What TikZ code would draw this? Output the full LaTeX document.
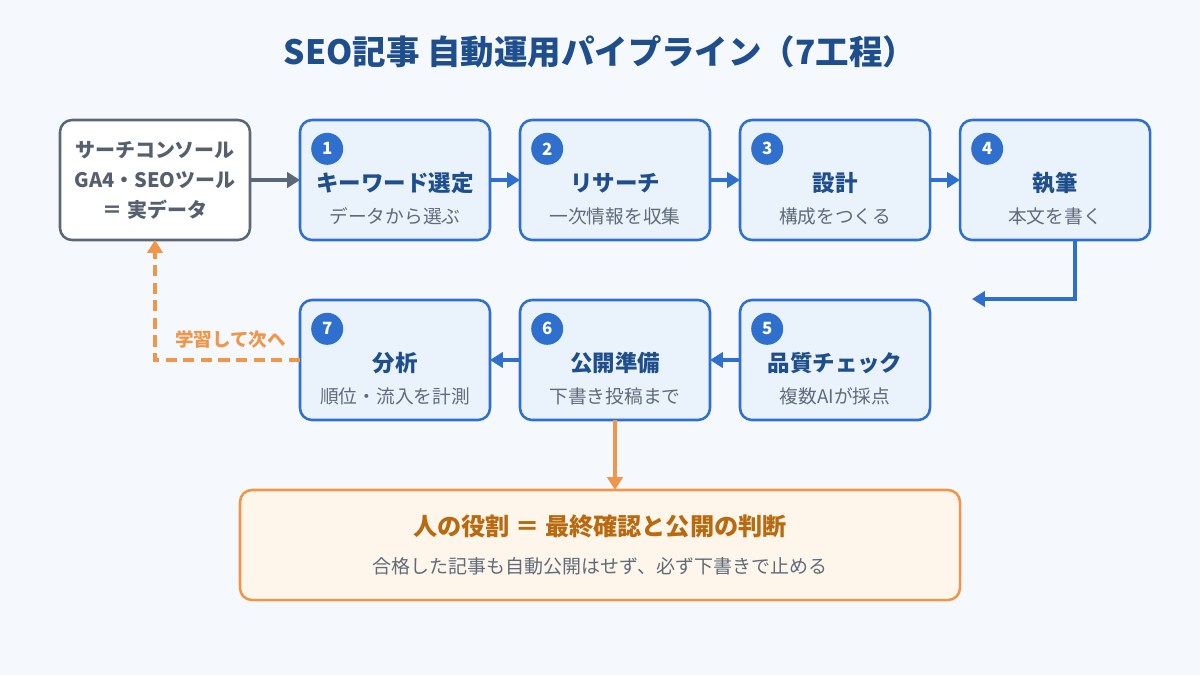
\documentclass[tikz,border=0pt]{standalone}
\usepackage{fontspec}
\setmainfont{Noto Sans CJK JP}
\usepackage{xcolor}
\usetikzlibrary{arrows.meta,positioning}

\definecolor{bgcol}{HTML}{F5F9FD}
\definecolor{stepblue}{HTML}{2F6FCD}
\definecolor{stepfill}{HTML}{EAF2FC}
\definecolor{titleblue}{HTML}{1F4E8C}
\definecolor{srcgray}{HTML}{5B6777}
\definecolor{srctext}{HTML}{555F6D}
\definecolor{subgray}{HTML}{5F6B7A}
\definecolor{roleorange}{HTML}{F0964A}
\definecolor{rolefill}{HTML}{FFF6EB}
\definecolor{roletext}{HTML}{B86A10}

\newcommand{\subtextfont}{\fontsize{13.3}{15}\selectfont\mdseries}

\begin{document}
\begin{tikzpicture}[
		node distance=0.75cm,
		srcbox/.style={
			rectangle,
			rounded corners=0.3cm,
			draw=srcgray,
			fill=white,
			line width=1.8pt,
			outer sep=0pt,
			minimum width=4.75cm,
			minimum height=3cm,
			align=center,
			text=srctext,
			font=\fontsize{14.2}{21.3}\selectfont\bfseries
		},
		stepbox/.style={
			rectangle,
			rounded corners=0.3cm,
			draw=stepblue,
			fill=stepfill,
			line width=1.8pt,
			outer sep=0pt,
			minimum width=4.75cm,
			minimum height=3cm
		},
		steptext/.style={
			align=center,
			text=titleblue,
			font=\fontsize{16}{22.7}\selectfont\bfseries
		},
		numdot/.style={
			circle,
			fill=stepblue,
			text=white,
			minimum size=0.8cm,
			inner sep=0pt,
			font=\fontsize{12}{14}\selectfont\bfseries
		},
		rolebox/.style={
			rectangle,
			rounded corners=0.3cm,
			draw=roleorange,
			fill=rolefill,
			line width=1.8pt,
			outer sep=0pt,
			minimum width=18cm,
			minimum height=2.75cm,
			align=center
		},
		arrow/.style={
			-{Triangle[length=3.2mm,width=3.8mm]},
			draw=stepblue,
			line width=2.6pt
		},
		looparrow/.style={
			-{Triangle[length=3.2mm,width=3.8mm]},
			draw=roleorange,
			line width=2.6pt,
			dash pattern=on 2.8mm off 1.6mm
		}
		]
		
		% canvas
		\fill[bgcol] (0,0) rectangle (30,-16.875);
		\useasboundingbox (0,0) rectangle (30,-16.875);
		
		\node[font=\fontsize{23.8}{28}\selectfont\bfseries, text=titleblue] (title) at (15,-1.3)
		{SEO記事 自動運用パイプライン（7工程）};
		
		\node[srcbox] (src) at (3.875,-4.5)
		{サーチコンソール\\GA4・SEOツール\\＝ 実データ};
		
		% first row
		\node[stepbox, right=1.25cm of src] (s1) {};
		\node[stepbox, right=of s1] (s2) {};
		\node[stepbox, right=of s2] (s3) {};
		\node[stepbox, right=of s3] (s4) {};
		
		% second row
		\node[stepbox, below=1.5cm of s3] (s5) {};
		\node[stepbox, left=of s5] (s6) {};
		\node[stepbox, left=of s6] (s7) {};
		
		\node[numdot] (n1) at ([xshift=0.68cm,yshift=-0.72cm]s1.north west) {1};
		\node[numdot] (n2) at ([xshift=0.68cm,yshift=-0.72cm]s2.north west) {2};
		\node[numdot] (n3) at ([xshift=0.68cm,yshift=-0.72cm]s3.north west) {3};
		\node[numdot] (n4) at ([xshift=0.68cm,yshift=-0.72cm]s4.north west) {4};
		\node[numdot] (n5) at ([xshift=0.68cm,yshift=-0.72cm]s5.north west) {5};
		\node[numdot] (n6) at ([xshift=0.68cm,yshift=-0.72cm]s6.north west) {6};
		\node[numdot] (n7) at ([xshift=0.68cm,yshift=-0.72cm]s7.north west) {7};
		
		\node[steptext] (t1) at ([yshift=-0.47cm]s1.center)
		{キーワード選定\\{\subtextfont\color{subgray}データから選ぶ}};
		\node[steptext] (t2) at ([yshift=-0.47cm]s2.center)
		{リサーチ\\{\subtextfont\color{subgray}一次情報を収集}};
		\node[steptext] (t3) at ([yshift=-0.47cm]s3.center)
		{設計\\{\subtextfont\color{subgray}構成をつくる}};
		\node[steptext] (t4) at ([yshift=-0.47cm]s4.center)
		{執筆\\{\subtextfont\color{subgray}本文を書く}};
		\node[steptext] (t5) at ([yshift=-0.47cm]s5.center)
		{品質チェック\\{\subtextfont\color{subgray}複数AIが採点}};
		\node[steptext] (t6) at ([yshift=-0.47cm]s6.center)
		{公開準備\\{\subtextfont\color{subgray}下書き投稿まで}};
		\node[steptext] (t7) at ([yshift=-0.47cm]s7.center)
		{分析\\{\subtextfont\color{subgray}順位・流入を計測}};
		
		\node[rolebox] (human) at (15,-13.625)
		{{\fontsize{17.2}{20}\selectfont\bfseries\color{roletext}人の役割 ＝ 最終確認と公開の判断}\\[13pt]
			{\fontsize{13.5}{15}\selectfont\color{subgray}合格した記事も自動公開はせず、必ず下書きで止める}};
		
		\coordinate (back) at (24.3,-7.475);
		
		\draw[arrow, draw=srcgray] (src) -- (s1);
		\draw[arrow] (s1) -- (s2);
		\draw[arrow] (s2) -- (s3);
		\draw[arrow] (s3) -- (s4);
		\draw[arrow] ([xshift=0.5cm]s4.south) |- (back);
		\draw[arrow] (s5) -- (s6);
		\draw[arrow] (s6) -- (s7);
		\draw[arrow, draw=roleorange] (s6.south) -- (s6.south |- human.north);
		\draw[looparrow] (s7.west) -| node[pos=0.24, above=4pt, text=roleorange,
			font=\fontsize{13.2}{15}\selectfont\bfseries] (learn) {学習して次へ} (src.south);
		
	\end{tikzpicture}
\end{document}
